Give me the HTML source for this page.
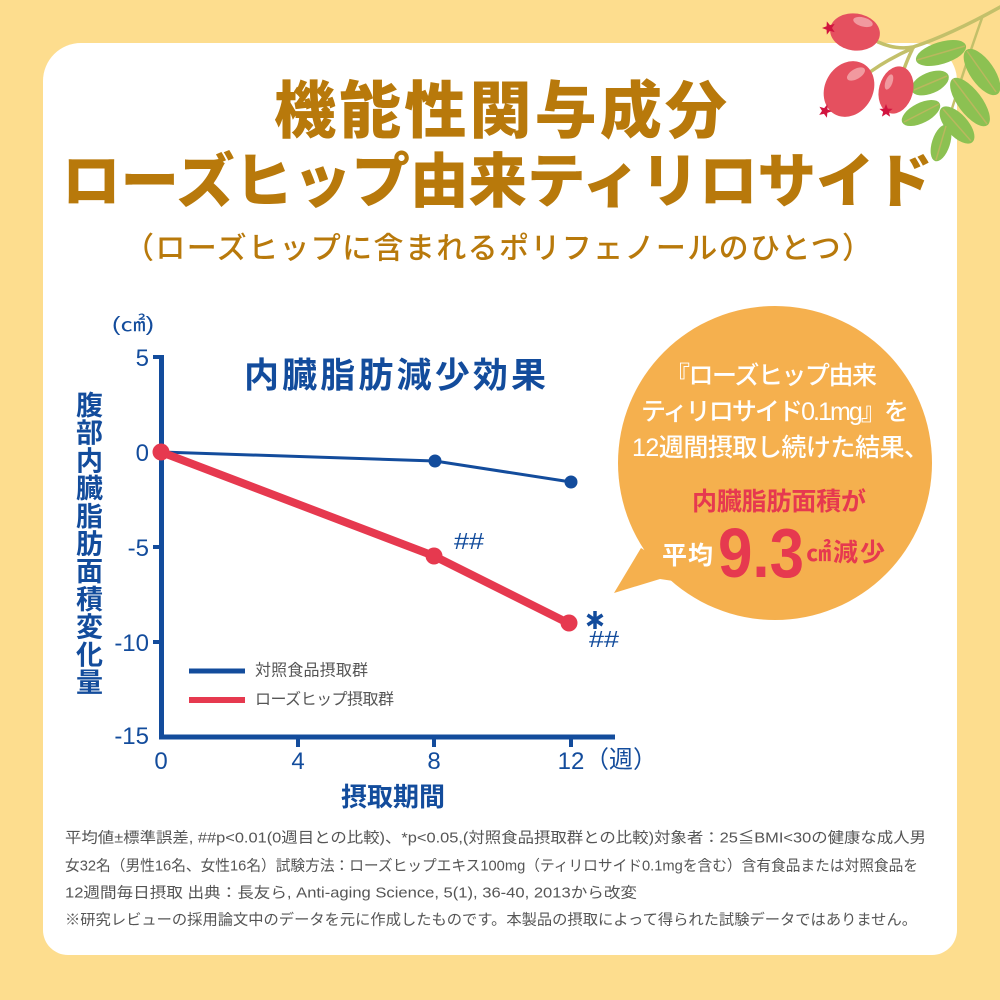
<!DOCTYPE html>
<html><head><meta charset="utf-8"><style>
html,body{margin:0;padding:0;background:#fddd8e;}
svg{display:block}
text{font-family:"Liberation Sans","Noto Sans CJK JP",sans-serif;}
</style></head><body>
<svg width="1000" height="1000" viewBox="0 0 1000 1000" xmlns="http://www.w3.org/2000/svg">
<rect width="1000" height="1000" fill="#fddd8e"/>
<path d="M81,43 H919 A38,38 0 0 1 957,81 V930 A25,25 0 0 1 932,955 H68 A25,25 0 0 1 43,930 V81 A38,38 0 0 1 81,43 Z" fill="#ffffff"/>

<!-- Titles -->
<g fill="#b8790b" font-weight="900">
<text x="274" y="112" dominant-baseline="central" font-size="62" textLength="453">機能性関与成分</text>
<text x="62" y="182" dominant-baseline="central" font-size="59" textLength="871" lengthAdjust="spacingAndGlyphs">ローズヒップ由来ティリロサイド</text>
</g>
<text x="124" y="249" dominant-baseline="central" font-size="30" font-weight="500" fill="#b8790b" textLength="748">（ローズヒップに含まれるポリフェノールのひとつ）</text>

<!-- Chart -->
<text x="112" y="325" dominant-baseline="central" font-size="20" fill="#134c9c" textLength="42" lengthAdjust="spacingAndGlyphs">(㎠)</text>
<text x="244" y="376" dominant-baseline="central" font-size="35" font-weight="700" fill="#134c9c" textLength="302">内臓脂肪減少効果</text>

<g font-size="27" font-weight="700" fill="#134c9c" text-anchor="middle" dominant-baseline="central">
<text x="89.5" y="406">腹</text>
<text x="89.5" y="433.7">部</text>
<text x="89.5" y="461.4">内</text>
<text x="89.5" y="489.1">臓</text>
<text x="89.5" y="516.8">脂</text>
<text x="89.5" y="544.5">肪</text>
<text x="89.5" y="572.2">面</text>
<text x="89.5" y="599.9">積</text>
<text x="89.5" y="627.6">変</text>
<text x="89.5" y="655.3">化</text>
<text x="89.5" y="683">量</text>
</g>

<g stroke="#134c9c" fill="none">
<line x1="161.5" y1="355" x2="161.5" y2="739.5" stroke-width="5"/>
<line x1="159" y1="737" x2="615" y2="737" stroke-width="5"/>
<line x1="153" y1="357" x2="162" y2="357" stroke-width="4"/>
<line x1="153" y1="452" x2="162" y2="452" stroke-width="4"/>
<line x1="153" y1="547" x2="162" y2="547" stroke-width="4"/>
<line x1="153" y1="642" x2="162" y2="642" stroke-width="4"/>
<line x1="298" y1="737" x2="298" y2="747" stroke-width="4"/>
<line x1="434" y1="737" x2="434" y2="747" stroke-width="4"/>
<line x1="571" y1="737" x2="571" y2="747" stroke-width="4"/>
</g>

<g font-size="24" fill="#134c9c" text-anchor="end">
<text x="149" y="366">5</text>
<text x="149" y="461">0</text>
<text x="149" y="556">-5</text>
<text x="149" y="651">-10</text>
<text x="149" y="744">-15</text>
</g>
<g font-size="24" fill="#134c9c" text-anchor="middle">
<text x="161" y="769">0</text>
<text x="298" y="769">4</text>
<text x="434" y="769">8</text>
<text x="571" y="769">12</text>
</g>
<text x="585" y="760" font-size="24" fill="#134c9c" dominant-baseline="central">（週）</text>
<text x="393" y="797" font-size="26" font-weight="700" fill="#134c9c" text-anchor="middle" dominant-baseline="central">摂取期間</text>

<!-- Series -->
<polyline points="161,452 435,461 571,482" fill="none" stroke="#134c9c" stroke-width="3"/>
<circle cx="435" cy="461" r="6.5" fill="#134c9c"/>
<circle cx="571" cy="482" r="6.5" fill="#134c9c"/>
<polyline points="161,452 434,556 570,624" fill="none" stroke="#e6394f" stroke-width="8" stroke-linejoin="round"/>
<circle cx="161" cy="452" r="8.5" fill="#e6394f"/>
<circle cx="434" cy="556" r="8.5" fill="#e6394f"/>
<circle cx="569" cy="623" r="8.5" fill="#e6394f"/>

<text x="454" y="549" font-size="23" fill="#134c9c" textLength="30" lengthAdjust="spacingAndGlyphs">##</text>
<text x="589" y="647" font-size="23" fill="#134c9c" textLength="30" lengthAdjust="spacingAndGlyphs">##</text>
<g stroke="#134c9c" stroke-width="3.5" stroke-linecap="butt">
<line x1="595" y1="611" x2="595" y2="629"/>
<line x1="587.5" y1="615" x2="602.5" y2="625"/>
<line x1="587.5" y1="625" x2="602.5" y2="615"/>
</g>

<!-- Legend -->
<line x1="189" y1="671" x2="245" y2="671" stroke="#134c9c" stroke-width="5"/>
<text x="255" y="671" font-size="16" fill="#555" dominant-baseline="central" textLength="113">対照食品摂取群</text>
<line x1="189" y1="700" x2="245" y2="700" stroke="#e6394f" stroke-width="6"/>
<text x="255" y="700" font-size="16" fill="#555" dominant-baseline="central" textLength="139">ローズヒップ摂取群</text>

<!-- Bubble -->
<circle cx="775" cy="463" r="157" fill="#f5b04e"/>
<polygon points="614,593 641,548 700,585 660,579" fill="#f5b04e"/>
<g fill="#ffffff" font-size="25" font-weight="500" dominant-baseline="central">
<text x="665" y="376" textLength="212">『ローズヒップ由来</text>
<text x="641" y="412" textLength="268">ティリロサイド0.1mg』を</text>
<text x="632" y="448" textLength="297">12週間摂取し続けた結果、</text>
<text x="662" y="556" font-weight="700" textLength="51">平均</text>
</g>
<text x="692" y="502" font-size="25" font-weight="700" fill="#e6394f" dominant-baseline="central" textLength="174">内臓脂肪面積が</text>
<text x="718" y="577" font-size="70" font-weight="700" fill="#e6394f" textLength="86" lengthAdjust="spacingAndGlyphs">9.3</text>
<text x="806" y="553" font-size="25" font-weight="700" fill="#e6394f" dominant-baseline="central" textLength="79">㎠減少</text>

<!-- Footnotes -->
<g font-size="15" fill="#555" dominant-baseline="central">
<text x="65" y="838" textLength="861" lengthAdjust="spacingAndGlyphs">平均値±標準誤差, ##p&lt;0.01(0週目との比較)、*p&lt;0.05,(対照食品摂取群との比較)対象者：25≦BMI&lt;30の健康な成人男</text>
<text x="65" y="866" textLength="853" lengthAdjust="spacingAndGlyphs">女32名（男性16名、女性16名）試験方法：ローズヒップエキス100mg（ティリロサイド0.1mgを含む）含有食品または対照食品を</text>
<text x="65" y="893" textLength="572" lengthAdjust="spacingAndGlyphs">12週間毎日摂取 出典：長友ら, Anti-aging Science, 5(1), 36-40, 2013から改変</text>
<text x="65" y="920" textLength="852" lengthAdjust="spacingAndGlyphs">※研究レビューの採用論文中のデータを元に作成したものです。本製品の摂取によって得られた試験データではありません。</text>
</g>

<!-- Rosehip decoration -->
<g fill="none" stroke="#c3c06a" stroke-width="3.5" stroke-linecap="round">
<path d="M878,42 Q896,50 913,47 Q950,35 1002,6"/>
<path d="M913,48 Q890,58 870,72"/>
<path d="M912,50 Q908,58 904,69"/>
<path d="M982,18 Q960,80 937,158" stroke-width="2.5"/>
</g>
<g fill="#8cc152">
<ellipse cx="941" cy="53" rx="26" ry="11" transform="rotate(-17 941 53)"/>
<ellipse cx="982" cy="72" rx="27" ry="12" transform="rotate(55 982 72)"/>
<ellipse cx="930" cy="83" rx="20" ry="10.5" transform="rotate(-23 930 83)"/>
<ellipse cx="970" cy="102" rx="29" ry="12" transform="rotate(53 970 102)"/>
<ellipse cx="921" cy="113" rx="21" ry="10" transform="rotate(-27 921 113)"/>
<ellipse cx="957" cy="125" rx="23" ry="11" transform="rotate(48 957 125)"/>
<ellipse cx="941" cy="143" rx="19" ry="9" transform="rotate(108 941 143)"/>
</g>
<g stroke="#b9b85e" stroke-width="1.5" fill="none">
<line x1="917" y1="60" x2="965" y2="46"/>
<line x1="967" y1="51" x2="996" y2="92"/>
<line x1="914" y1="90" x2="947" y2="76"/>
<line x1="953" y1="79" x2="987" y2="124"/>
<line x1="904" y1="122" x2="939" y2="104"/>
<line x1="943" y1="109" x2="971" y2="141"/>
<line x1="946" y1="126" x2="936" y2="160"/>
</g>
<g fill="#e5505f">
<ellipse cx="855" cy="32" rx="25" ry="18.5" transform="rotate(8 855 32)"/>
<ellipse cx="849" cy="89" rx="24" ry="29" transform="rotate(30 849 89)"/>
<ellipse cx="896" cy="90" rx="17" ry="24" transform="rotate(15 896 90)"/>
</g>
<g fill="#f1999f">
<ellipse cx="863" cy="22" rx="10" ry="4.5" transform="rotate(15 863 22)"/>
<ellipse cx="856" cy="74" rx="10" ry="5" transform="rotate(-30 856 74)"/>
<ellipse cx="889" cy="82" rx="3.5" ry="8" transform="rotate(20 889 82)"/>
</g>
<g fill="#d1143f">
<polygon points="0,-7 1.76,-2.43 6.66,-2.16 2.85,0.93 4.11,5.66 0,3 -4.11,5.66 -2.85,0.93 -6.66,-2.16 -1.76,-2.43" transform="translate(829,28) rotate(-90)"/>
<polygon points="0,-7 1.76,-2.43 6.66,-2.16 2.85,0.93 4.11,5.66 0,3 -4.11,5.66 -2.85,0.93 -6.66,-2.16 -1.76,-2.43" transform="translate(825,111) rotate(20)"/>
<polygon points="0,-7 1.76,-2.43 6.66,-2.16 2.85,0.93 4.11,5.66 0,3 -4.11,5.66 -2.85,0.93 -6.66,-2.16 -1.76,-2.43" transform="translate(886,111)"/>
</g>
</svg>
</body></html>
